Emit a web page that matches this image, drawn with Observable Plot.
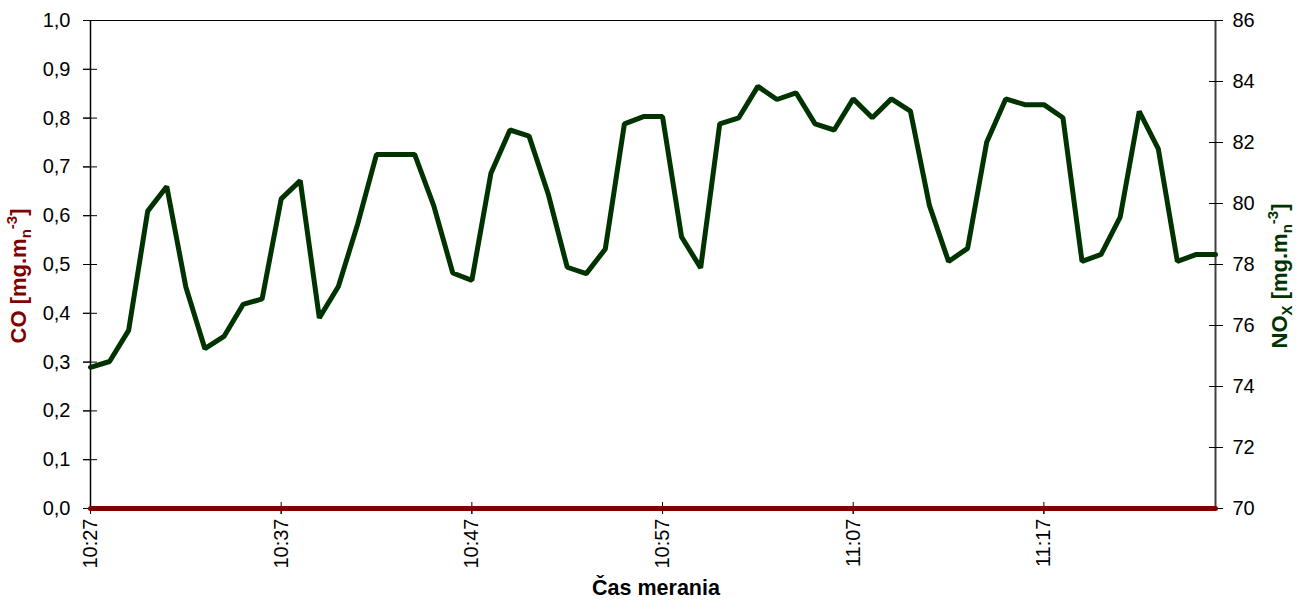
<!DOCTYPE html>
<html>
<head>
<meta charset="utf-8">
<script src="https://cdn.jsdelivr.net/npm/d3@7"></script>
<script src="https://cdn.jsdelivr.net/npm/@observablehq/plot@0.6"></script>
<style>
  html, body { margin: 0; padding: 0; background: #fff; }
  #chart { width: 1301px; height: 601px; }
  svg { font-family: "Liberation Sans", Arial, sans-serif; }
</style>
</head>
<body>
<div id="chart"></div>
<script>
// ---- data ----
const times = ["10:27","10:28","10:29","10:30","10:31","10:32","10:33","10:34","10:35","10:36",
               "10:37","10:38","10:39","10:40","10:41","10:42","10:43","10:44","10:45","10:46",
               "10:47","10:48","10:49","10:50","10:51","10:52","10:53","10:54","10:55","10:56",
               "10:57","10:58","10:59","11:00","11:01","11:02","11:03","11:04","11:05","11:06",
               "11:07","11:08","11:09","11:10","11:11","11:12","11:13","11:14","11:15","11:16",
               "11:17","11:18","11:19","11:20","11:21","11:22","11:23","11:24","11:25","11:26"];
const noxValues = [74.63,74.82,75.84,79.75,80.56,77.26,75.24,75.64,76.69,76.87,
                   80.15,80.75,76.25,77.28,79.30,81.61,81.61,81.61,79.93,77.72,
                   77.48,80.99,82.41,82.21,80.32,77.91,77.70,78.51,82.61,82.85,
                   82.85,78.90,77.89,82.61,82.81,83.84,83.41,83.63,82.61,82.41,
                   83.43,82.81,83.43,83.03,79.93,78.10,78.53,82.01,83.43,83.24,
                   83.24,82.81,78.10,78.33,79.55,83.02,81.79,78.10,78.33,78.33];
const coValues = [0,0,0,0,0,0,0,0,0,0, 0,0,0,0,0,0,0,0,0,0, 0,0,0,0,0,0,0,0,0,0,
                  0,0,0,0,0,0,0,0,0,0, 0,0,0,0,0,0,0,0,0,0, 0,0,0,0,0,0,0,0,0,0];
const xTickLabels = ["10:27","10:37","10:47","10:57","11:07","11:17"];
const coTicks = [0,0.1,0.2,0.3,0.4,0.5,0.6,0.7,0.8,0.9,1.0];
const noxTicks = [70,72,74,76,78,80,82,84,86];
const coTitle = "CO [mg.m";
const noxTitle = "NO";
const xTitle = "Čas merania";

// ---- build ----
const parse = d3.utcParse("%H:%M");
const fmt = d3.utcFormat("%H:%M");
const noxMin = noxTicks[0], noxMax = noxTicks[noxTicks.length - 1];
const toCo = v => (v - noxMin) / (noxMax - noxMin);
const rows = times.map((t, i) => ({t: parse(t), co: coValues[i], nox: noxValues[i]}));
const tStart = rows[0].t, tEnd = rows[rows.length - 1].t;
const xTicks = xTickLabels.map(parse);

const FS = 20;
const chart = Plot.plot({
  width: 1301,
  height: 601,
  marginLeft: 90,
  marginRight: 86,
  marginTop: 20,
  marginBottom: 93,
  style: {fontFamily: '"Liberation Sans", Arial, sans-serif', fontSize: FS + "px", color: "#000", background: "#fff"},
  x: {type: "utc", domain: [tStart, tEnd]},
  y: {domain: [0, 1]},
  marks: [
    // frame lines
    Plot.ruleY([1], {stroke: "#000", strokeWidth: 1}),
    Plot.ruleY([0], {stroke: "#000", strokeWidth: 1}),
    Plot.ruleX([tStart], {stroke: "#000", strokeWidth: 1.5}),
    Plot.ruleX([tEnd], {stroke: "#404040", strokeWidth: 2}),
    // left axis: crossing ticks + labels
    Plot.axisY(coTicks, {anchor: "left", tickSize: 14, dx: 7, tickFormat: () => "", label: null, stroke: "#000"}),
    Plot.axisY(coTicks, {anchor: "left", tickSize: 7, tickPadding: 13, tickFormat: d => d.toFixed(1).replace(".", ","), label: null, fontSize: FS}),
    // right axis
    Plot.axisY(noxTicks.map(toCo), {anchor: "right", tickSize: 14, dx: -7, tickFormat: () => "", label: null, stroke: "#000"}),
    Plot.axisY(noxTicks.map(toCo), {anchor: "right", tickSize: 7, tickPadding: 10, tickFormat: d => String(Math.round(noxMin + d * (noxMax - noxMin))), label: null, fontSize: FS}),
    // x axis
    Plot.axisX(xTicks, {anchor: "bottom", tickSize: 12, dy: -6, tickFormat: () => "", label: null, stroke: "#000"}),
    Plot.axisX(xTicks, {anchor: "bottom", tickSize: 6, tickPadding: 4, tickRotate: -90, tickFormat: fmt, label: null, fontSize: FS}),
    // series
    Plot.lineY(rows, {x: "t", y: "co", stroke: "#800000", strokeWidth: 5}),
    Plot.lineY(rows, {x: "t", y: d => toCo(d.nox), stroke: "#003300", strokeWidth: 5, strokeLinejoin: "miter"})
  ]
});
document.getElementById("chart").appendChild(chart);

// ---- axis titles with sub/superscripts ----
const svg = d3.select(chart);
const co = svg.append("text")
  .attr("transform", "translate(26,276) rotate(-90)")
  .attr("text-anchor", "middle")
  .attr("fill", "#800000")
  .attr("font-weight", "bold")
  .attr("font-size", 22);
co.append("tspan").text(coTitle);
co.append("tspan").attr("font-size", 15).attr("dy", 5).text("n");
co.append("tspan").attr("font-size", 15).attr("dy", -14).text("-3");
co.append("tspan").attr("dy", 9).text("]");

const nx = svg.append("text")
  .attr("transform", "translate(1287,276) rotate(-90)")
  .attr("text-anchor", "middle")
  .attr("fill", "#003300")
  .attr("font-weight", "bold")
  .attr("font-size", 22);
nx.append("tspan").text(noxTitle);
nx.append("tspan").attr("font-size", 15).attr("dy", 5).text("X");
nx.append("tspan").attr("dy", -5).text(" [mg.m");
nx.append("tspan").attr("font-size", 15).attr("dy", 5).text("n");
nx.append("tspan").attr("font-size", 15).attr("dy", -14).text("-3");
nx.append("tspan").attr("dy", 9).text("]");

svg.append("text")
  .attr("x", 656).attr("y", 595)
  .attr("text-anchor", "middle")
  .attr("font-weight", "bold")
  .attr("font-size", 21.5)
  .attr("fill", "#000")
  .text(xTitle);
</script>
</body>
</html>
